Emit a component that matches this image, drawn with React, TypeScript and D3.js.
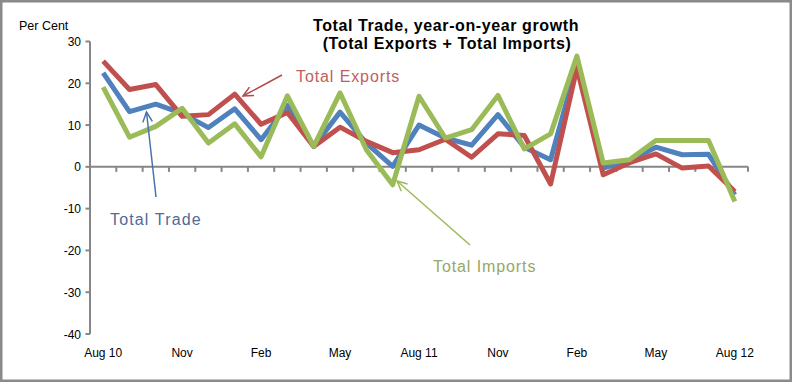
import React from "react";
import * as d3 from "d3";

const months = [
  "Aug 10", "Sep", "Oct", "Nov", "Dec", "Jan", "Feb", "Mar", "Apr", "May", "Jun", "Jul",
  "Aug 11", "Sep", "Oct", "Nov", "Dec", "Jan", "Feb", "Mar", "Apr", "May", "Jun", "Jul", "Aug 12",
];
const labelEvery = 3;
const totalTrade = [22.5, 13.2, 15.0, 12.8, 9.4, 13.9, 6.5, 14.7, 4.9, 13.1, 5.7, 0.1, 10.0, 6.9, 5.2, 12.5, 4.7, 1.7, 24.5, -0.3, 1.5, 4.7, 2.9, 3.0, -6.7];
const totalExports = [25.3, 18.5, 19.7, 12.1, 12.5, 17.4, 10.2, 13.0, 4.9, 9.5, 6.1, 3.4, 4.1, 6.6, 2.3, 7.9, 7.5, -4.1, 23.7, -1.9, 1.0, 3.1, -0.3, 0.2, -5.9];
const totalImports = [19.1, 7.1, 9.7, 14.0, 5.7, 10.3, 2.4, 17.0, 4.9, 17.7, 4.1, -4.3, 16.9, 6.9, 8.9, 17.1, 4.3, 7.9, 26.5, 0.9, 1.7, 6.3, 6.3, 6.3, -8.3];
const yTicks = [-40, -30, -20, -10, 0, 10, 20, 30];

const W = 792;
const H = 382;
const FONT = "'Liberation Sans', Arial, sans-serif";

function Arrow({ x1, y1, x2, y2, color }: { x1: number; y1: number; x2: number; y2: number; color: string }) {
  const ang = Math.atan2(y2 - y1, x2 - x1);
  const len = 11;
  const spread = 0.45;
  const a1x = x2 - len * Math.cos(ang - spread);
  const a1y = y2 - len * Math.sin(ang - spread);
  const a2x = x2 - len * Math.cos(ang + spread);
  const a2y = y2 - len * Math.sin(ang + spread);
  return (
    <g stroke={color} strokeWidth={1.5} fill="none">
      <line x1={x1} y1={y1} x2={x2} y2={y2} />
      <polyline points={`${a1x},${a1y} ${x2},${y2} ${a2x},${a2y}`} />
    </g>
  );
}

export default function App() {
  const x = d3.scaleBand<number>().domain(months.map((_, i) => i)).range([90, 748]).padding(0);
  const y = d3.scaleLinear().domain([-40, 30]).range([334, 41.5]);
  const cx = (i: number) => (x(i) as number) + x.bandwidth() / 2;
  const line = d3
    .line<number>()
    .x((_, i) => cx(i))
    .y((d) => y(d));

  const series = [
    { data: totalTrade, color: "#4F81BD" },
    { data: totalExports, color: "#C0504D" },
    { data: totalImports, color: "#9BBB59" },
  ];
  const axisColor = "#868686";
  const boundaries = d3.range(months.length + 1).map((i) => 90 + i * x.bandwidth());

  return (
    <svg width={W} height={H} style={{ position: "absolute", left: 0, top: 0, display: "block" }} fontFamily={FONT}>
      <rect x={0} y={0} width={W} height={H} fill="#fff" />
      <rect x={1.25} y={1.25} width={W - 2.5} height={H - 2.5} fill="none" stroke="#8a8a8a" strokeWidth={2.5} />

      <text x={446} y={31} textAnchor="middle" fontWeight="bold" fontSize={16} fill="#000" letterSpacing={0.6}>
        Total Trade, year-on-year growth
      </text>
      <text x={447} y={49} textAnchor="middle" fontWeight="bold" fontSize={16} fill="#000" letterSpacing={0.6}>
        (Total Exports + Total Imports)
      </text>

      <text x={19} y={29.5} fontSize={12.5} fill="#000">Per Cent</text>

      {/* y axis */}
      <line x1={90} y1={y(30)} x2={90} y2={y(-40)} stroke={axisColor} strokeWidth={2} />
      {yTicks.map((t) => (
        <g key={t}>
          <line x1={85.5} x2={90} y1={y(t)} y2={y(t)} stroke={axisColor} strokeWidth={2} />
          <text x={81} y={y(t) + 4.5} textAnchor="end" fontSize={12} fill="#000">
            {t}
          </text>
        </g>
      ))}

      {/* x axis at zero */}
      <line x1={90} x2={748} y1={y(0)} y2={y(0)} stroke={axisColor} strokeWidth={2} />
      {boundaries.map((b, i) => (
        <line key={i} x1={b} x2={b} y1={y(0)} y2={y(0) + 5} stroke={axisColor} strokeWidth={2} />
      ))}
      {months.map((m, i) =>
        i % labelEvery === 0 ? (
          <text key={i} x={cx(i)} y={357} textAnchor="middle" fontSize={12} fill="#000">
            {m}
          </text>
        ) : null
      )}

      {series.map((s, k) => (
        <path key={k} d={line(s.data) || ""} fill="none" stroke={s.color} strokeWidth={5} strokeLinejoin="round" />
      ))}

      {/* annotations */}
      <Arrow x1={282} y1={75} x2={243} y2={96} color="#b34a48" />
      <text x={296} y={81.5} fontSize={16} fill="#c0605e" letterSpacing={0.9}>Total Exports</text>

      <Arrow x1={156} y1={197} x2={146.5} y2={112} color="#4a72aa" />
      <text x={110} y={225} fontSize={16} fill="#506a98" letterSpacing={1.15}>Total Trade</text>

      <Arrow x1={470} y1={245} x2={397} y2={181} color="#9bbb59" />
      <text x={433} y={271.5} fontSize={16} fill="#96a764" letterSpacing={0.9}>Total Imports</text>
    </svg>
  );
}
